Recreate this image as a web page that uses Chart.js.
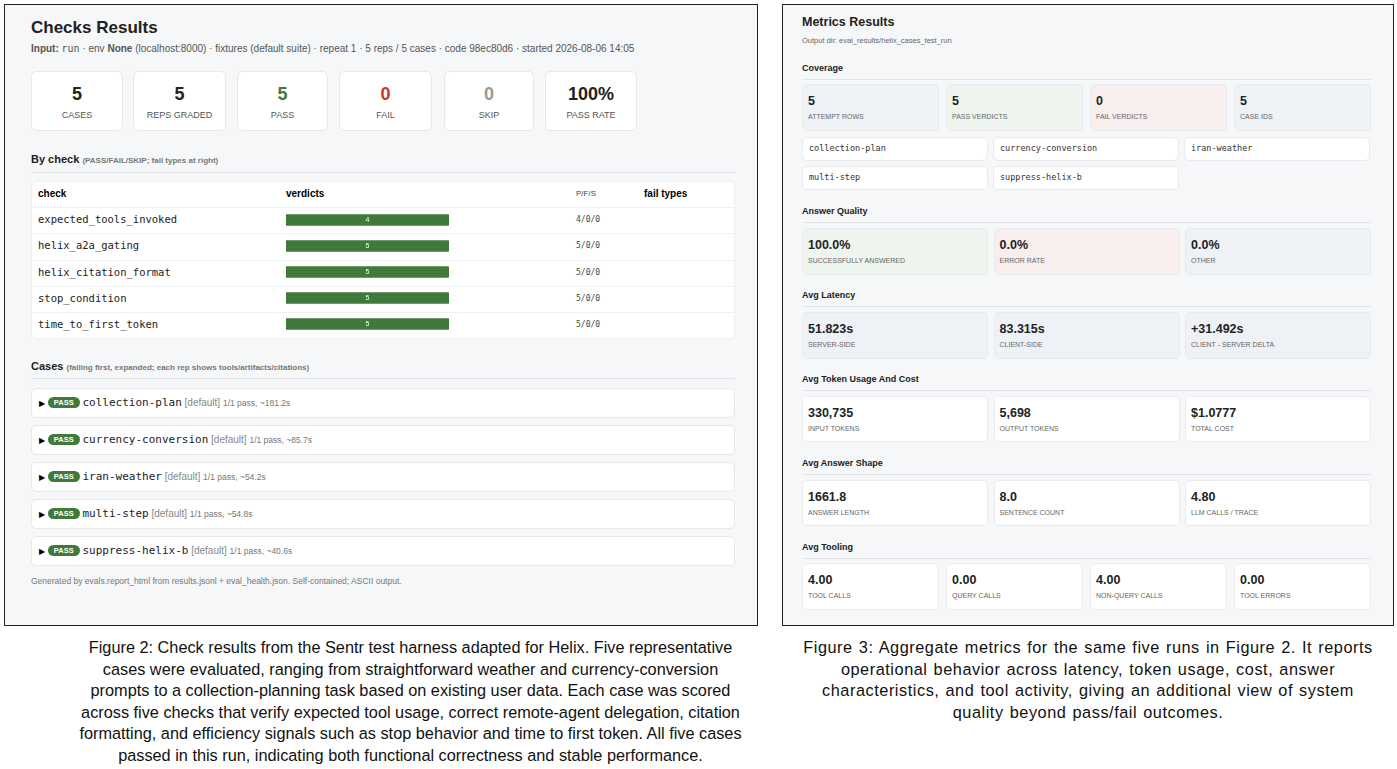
<!DOCTYPE html>
<html>
<head>
<meta charset="utf-8">
<script src="https://cdn.jsdelivr.net/npm/chart.js@4"></script>
<style>
  body { margin: 0; width: 1397px; height: 769px; background: #fff; font-family: "Liberation Sans", Arial, sans-serif; position: relative; overflow: hidden; }
  .panel { position: absolute; border: 1.5px solid #222; background: #f6f7f8; box-sizing: border-box; }
  .a { position: absolute; white-space: nowrap; }
  .box { position: absolute; background: #fff; border: 1px solid #e6e8eb; border-radius: 5px; box-sizing: border-box; }
  .mono { font-family: "DejaVu Sans Mono", monospace; }
  .line { position: absolute; height: 1px; background: #e2e4e7; }
  .cap { position: absolute; text-align: center; line-height: 21.6px; color: #111; white-space: nowrap; }
  .pill { display: inline-block; background: #3f7a3a; color: #fff; font-size: 7.5px; font-weight: bold; border-radius: 6px; padding: 1px 6px; vertical-align: 1px; }
</style>
</head>
<body>
<div class="panel" style="left:4px;top:4px;width:754px;height:622px"></div>
<div class="panel" style="left:782px;top:4px;width:612px;height:622px"></div>
<div id="root"></div>
<canvas id="verdicts" style="position:absolute;left:286px;top:207px;width:163px;height:130px"></canvas>
<script>
// data
const checks = ["expected_tools_invoked", "helix_a2a_gating", "helix_citation_format", "stop_condition", "time_to_first_token"];
const passCounts = [4, 5, 5, 5, 5];
const failCounts = [0, 0, 0, 0, 0];
const skipCounts = [0, 0, 0, 0, 0];
const cases = ["collection-plan", "currency-conversion", "iran-weather", "multi-step", "suppress-helix-b"];
const caseTimes = ["~181.2s", "~85.7s", "~54.2s", "~54.8s", "~40.6s"];

let root = document.getElementById("root");
function el(html, cls, css) {
  let d = document.createElement("div");
  d.className = cls;
  d.style.cssText = css;
  d.innerHTML = html;
  root.appendChild(d);
  return d;
}

// left panel
el("Checks Results", "a", "left:31px;top:18px;font-size:17px;font-weight:bold;color:#222");
el('<b>Input:</b> <span class="mono">run</span> · env <b>None</b> (localhost:8000) · fixtures (default suite) · repeat 1 · 5 reps / 5 cases · code 98ec80d6 · started 2026-08-06 14:05',
  "a", "left:31px;top:43px;font-size:10px;color:#555");
let stats = [["5","CASES","#222",31,92],["5","REPS GRADED","#222",133,93],["5","PASS","#3f7a3a",237,91],["0","FAIL","#c0392b",339,93],["0","SKIP","#999",444,90],["100%","PASS RATE","#222",545,92]];
for (let s of stats) {
  el("", "box", `left:${s[3]}px;top:71px;width:${s[4]}px;height:60px`);
  el(s[0], "a", `left:${s[3]}px;top:84px;width:${s[4]}px;text-align:center;font-size:18px;font-weight:bold;color:${s[2]}`);
  el(s[1], "a", `left:${s[3]}px;top:110px;width:${s[4]}px;text-align:center;font-size:9px;color:#555`);
}
el('By check <span style="font-size:8px;color:#777">(PASS/FAIL/SKIP; fail types at right)</span>', "a", "left:31px;top:153px;font-size:11px;font-weight:bold;color:#222");
el("", "line", "left:31px;top:172px;width:704px");
el("", "box", "left:31px;top:181px;width:704px;height:158px;border-color:#eef0f2");
el("check", "a", "left:38px;top:188px;font-size:10px;font-weight:bold");
el("verdicts", "a", "left:286px;top:188px;font-size:10px;font-weight:bold");
el("P/F/S", "a", "left:576px;top:189px;font-size:8px;color:#444");
el("fail types", "a", "left:644px;top:188px;font-size:10px;font-weight:bold");
checks.forEach((c, i) => {
  let y = 207 + i * 26.3;
  el("", "line", `left:31px;top:${y}px;width:704px;background:#eef0f2`);
  el(c, "a mono", `left:38px;top:${y + 6}px;font-size:10.5px;color:#222`);
  el(`${passCounts[i]}/${failCounts[i]}/${skipCounts[i]}`, "a mono", `left:576px;top:${y + 8}px;font-size:8px;color:#444`);
});
el('Cases <span style="font-size:8px;color:#777">(failing first, expanded; each rep shows tools/artifacts/citations)</span>', "a", "left:31px;top:360px;font-size:11px;font-weight:bold;color:#222");
el("", "line", "left:31px;top:378px;width:704px");
cases.forEach((c, i) => {
  let y = 388 + i * 37;
  el("", "box", `left:31px;top:${y}px;width:704px;height:30px`);
  el(`<span style="font-size:8px">&#9654;</span> <span class="pill">PASS</span> <span class="mono" style="font-size:11px;color:#222">${c}</span> <span style="color:#888;font-size:10px">[default]</span> <span style="color:#777;font-size:8.5px">1/1 pass, ${caseTimes[i]}</span>`,
    "a", `left:39px;top:${y + 8}px;font-size:10px`);
});
el("Generated by evals.report_html from results.jsonl + eval_health.json. Self-contained; ASCII output.", "a", "left:31px;top:576px;font-size:8.5px;color:#777");

// right panel
el("Metrics Results", "a", "left:802px;top:15px;font-size:12.5px;font-weight:bold;color:#222");
el("Output dir: eval_results/helix_cases_test_run", "a", "left:802px;top:36px;font-size:7.5px;color:#666");
const G = "#eef4ee", R = "#f8eeee", B = "#eef2f7", W = "#fff";
function section(title, y) {
  el(title, "a", `left:802px;top:${y - 6}px;font-size:9px;font-weight:bold;color:#222`);
  el("", "line", `left:802px;top:${y + 10}px;width:569px`);
}
function cards(y, h, items) {
  let n = items.length, gap = n == 4 ? 7 : 5.5, w = (569 - gap * (n - 1)) / n;
  items.forEach((it, i) => {
    let x = 802 + i * (w + gap);
    el("", "box", `left:${x}px;top:${y}px;width:${w}px;height:${h}px;background:${it[2]};border-color:#e8eaed`);
    el(it[0], "a", `left:${x + 6}px;top:${y + 10}px;font-size:12.5px;font-weight:bold;color:#222`);
    el(it[1], "a", `left:${x + 6}px;top:${y + 29}px;font-size:7px;color:#666`);
  });
}
section("Coverage", 69);
cards(84, 47, [["5","ATTEMPT ROWS",B],["5","PASS VERDICTS",G],["0","FAIL VERDICTS",R],["5","CASE IDS",B]]);
cases.forEach((c, i) => {
  let x = 802 + (i % 3) * 191, y = i < 3 ? 137 : 166;
  el("", "box", `left:${x}px;top:${y}px;width:186px;height:24px;border-color:#e8eaed`);
  el(c, "a mono", `left:${x + 7}px;top:${y + 6}px;font-size:8.5px;color:#333`);
});
section("Answer Quality", 212);
cards(228, 47, [["100.0%","SUCCESSFULLY ANSWERED",G],["0.0%","ERROR RATE",R],["0.0%","OTHER",B]]);
section("Avg Latency", 296);
cards(312, 47, [["51.823s","SERVER-SIDE",B],["83.315s","CLIENT-SIDE",B],["+31.492s","CLIENT - SERVER DELTA",B]]);
section("Avg Token Usage And Cost", 380);
cards(396, 46, [["330,735","INPUT TOKENS",W],["5,698","OUTPUT TOKENS",W],["$1.0777","TOTAL COST",W]]);
section("Avg Answer Shape", 464);
cards(480, 46, [["1661.8","ANSWER LENGTH",W],["8.0","SENTENCE COUNT",W],["4.80","LLM CALLS / TRACE",W]]);
section("Avg Tooling", 548);
cards(563, 47, [["4.00","TOOL CALLS",W],["0.00","QUERY CALLS",W],["4.00","NON-QUERY CALLS",W],["0.00","TOOL ERRORS",W]]);

// captions
el("Figure 2: Check results from the Sentr test harness adapted for Helix. Five representative<br>cases were evaluated, ranging from straightforward weather and currency-conversion<br>prompts to a collection-planning task based on existing user data. Each case was scored<br>across five checks that verify expected tool usage, correct remote-agent delegation, citation<br>formatting, and efficiency signals such as stop behavior and time to first token. All five cases<br>passed in this run, indicating both functional correctness and stable performance.",
  "cap", "left:30px;top:637px;width:761px;font-size:16.3px");
el("Figure 3: Aggregate metrics for the same five runs in Figure 2. It reports<br>operational behavior across latency, token usage, cost, answer<br>characteristics, and tool activity, giving an additional view of system<br>quality beyond pass/fail outcomes.",
  "cap", "left:782px;top:637px;width:612px;font-size:16.3px;letter-spacing:0.55px;word-spacing:1px");

// verdict bars
let totals = passCounts.map((p, i) => p + failCounts[i] + skipCounts[i]);
const barLabels = {
  id: "barLabels",
  afterDatasetsDraw(chart) {
    let ctx = chart.ctx;
    ctx.save();
    ctx.fillStyle = "#fff";
    ctx.font = "7px 'Liberation Sans', Arial";
    ctx.textAlign = "center";
    ctx.textBaseline = "middle";
    chart.getDatasetMeta(0).data.forEach((bar, i) => {
      if (passCounts[i] > 0) ctx.fillText(String(passCounts[i]), (bar.base + bar.x) / 2, bar.y + 0.5);
    });
    ctx.restore();
  },
};
new Chart(document.getElementById("verdicts"), {
  type: "bar",
  data: {
    labels: checks,
    datasets: [
      { label: "pass", data: passCounts.map((v, i) => v / totals[i] * 100), backgroundColor: "#3f7a3a" },
      { label: "fail", data: failCounts.map((v, i) => v / totals[i] * 100), backgroundColor: "#c0392b" },
      { label: "skip", data: skipCounts.map((v, i) => v / totals[i] * 100), backgroundColor: "#aaa" },
    ],
  },
  options: {
    indexAxis: "y",
    responsive: false,
    animation: false,
    layout: { padding: 0 },
    barThickness: 11,
    borderRadius: 2,
    scales: {
      x: { stacked: true, display: false, min: 0, max: 100 },
      y: { stacked: true, display: false },
    },
    plugins: { legend: { display: false }, tooltip: { enabled: false } },
  },
  plugins: [barLabels],
});
</script>
</body>
</html>
